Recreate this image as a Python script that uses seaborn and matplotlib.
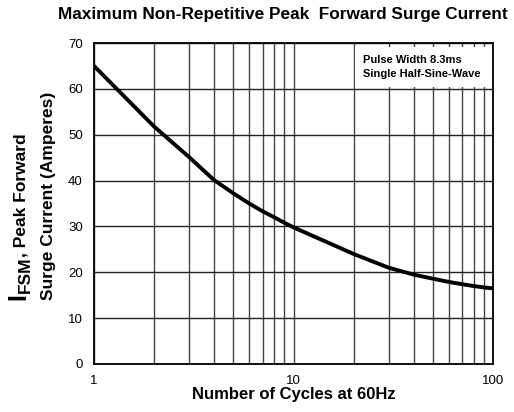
import numpy as np
import pandas as pd
import seaborn as sns
import matplotlib.pyplot as plt
from matplotlib.patches import Rectangle
from matplotlib.ticker import LogLocator, NullFormatter

# surge current curve
cycles = [1, 2, 3, 4, 5, 6, 7, 8, 9, 10, 20, 30, 40, 50, 60, 70, 80, 90, 100]
current = [65.0, 51.8, 45.1, 40.1, 37.2, 35.0, 33.3, 32.0, 30.8, 29.8,
           24.0, 21.0, 19.5, 18.6, 17.9, 17.4, 17.0, 16.7, 16.5]
y_ticks = [0, 10, 20, 30, 40, 50, 60, 70]
x_ticks = [1, 10, 100]
x_tick_labels = ['1', '10', '100']
note = 'Pulse Width 8.3ms\nSingle Half-Sine-Wave'

df = pd.DataFrame({'cycles': cycles, 'current': current})

sns.set_style('white')
plt.rcParams['font.family'] = ['Liberation Sans', 'DejaVu Sans']
plt.rcParams['text.color'] = 'black'
plt.rcParams['axes.labelcolor'] = 'black'
plt.rcParams['xtick.color'] = 'black'
plt.rcParams['ytick.color'] = 'black'

W, H = 514, 412
fig = plt.figure(figsize=(W / 100, H / 100), dpi=100)
ax = fig.add_axes([94 / W, 48 / H, 399 / W, 321 / H])

sns.lineplot(data=df, x='cycles', y='current', color='black', linewidth=2.8,
             ax=ax, zorder=3)

ax.set_xscale('log')
ax.set_xlim(1, 100)
ax.set_ylim(0, 70)
ax.set_yticks(y_ticks)
ax.set_xticks(x_ticks)
ax.set_xticklabels(x_tick_labels)
ax.xaxis.set_minor_locator(LogLocator(base=10, subs=np.arange(2, 10)))
ax.xaxis.set_minor_formatter(NullFormatter())

ax.set_axisbelow(True)
ax.grid(True, which='both', axis='x', color='#444444', linewidth=1.0)
ax.grid(True, which='major', axis='y', color='#222222', linewidth=1.0)

for s in ax.spines.values():
    s.set_color('black')
    s.set_linewidth(1.3)

ax.tick_params(axis='y', which='major', direction='out', length=6, width=1,
               labelsize=9.5, pad=2)
ax.tick_params(axis='x', which='major', direction='out', length=4, width=1,
               labelsize=9.5, pad=4)
ax.tick_params(axis='x', which='minor', length=0)

# white note box covering the grid
ax.add_patch(Rectangle((0.654, 0.863), 0.343, 0.125, transform=ax.transAxes,
                       facecolor='white', edgecolor='none', zorder=2))
ax.text(0.674, 0.925, note, transform=ax.transAxes, fontsize=8,
        fontweight='bold', va='center', ha='left', linespacing=1.6, zorder=4)

ax.set_xlabel('Number of Cycles at 60Hz', fontsize=12, fontweight='bold',
              labelpad=0)
ax.set_ylabel('')

fig.text(283 / W, 1 - 14 / H, 'Maximum Non-Repetitive Peak  Forward Surge Current',
         ha='center', va='center', fontsize=12.4, fontweight='bold')

# y label built from pieces: big I, subscript FSM, rest of the text
fig.canvas.draw()
rend = fig.canvas.get_renderer()


def put(x, y, s, size):
    # x = baseline (px from left), y = start of the text (px from top)
    t = fig.text(x / W, 1 - y / H, s, rotation=90, rotation_mode='anchor',
                 ha='left', va='baseline', fontsize=size, fontweight='bold')
    return y - t.get_window_extent(rend).height


y0 = put(25, 300, 'I', 18)
y0 = put(30, y0, 'FSM', 12.5)
put(25, y0, ', Peak Forward', 12.5)
put(53, 300, 'Surge Current (Amperes)', 12.5)

fig.savefig('out.png', dpi=100)
